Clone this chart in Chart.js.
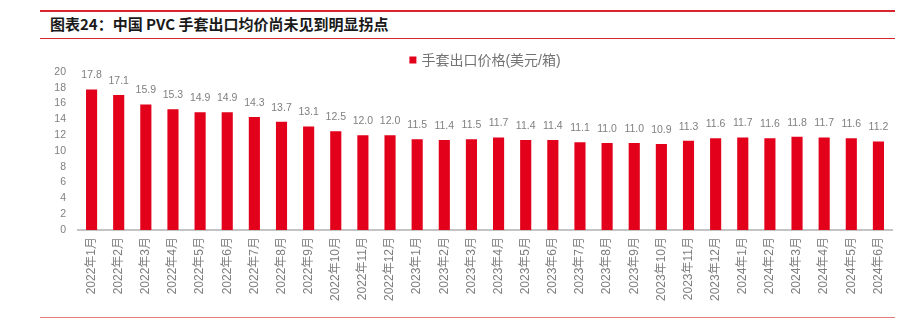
<!DOCTYPE html>
<html lang="zh-CN">
<head>
<meta charset="utf-8">
<title>中国PVC手套出口均价</title>
<script src="https://cdn.jsdelivr.net/npm/chart.js@4.4.1/dist/chart.umd.min.js"></script>
<style>
  html, body { margin: 0; padding: 0; background: #fff; }
  .page { position: relative; width: 900px; height: 325px; overflow: hidden; }
  .rule { position: absolute; left: 40px; width: 855px; background: #d9262e; }
  .rule.top { top: 10px; height: 2px; }
  .rule.mid { top: 38px; height: 1px; }
  .rule.bottom { top: 317px; height: 1px; background: #e77b7b; }
  .title {
    position: absolute; left: 50px; top: 16px;
    font: bold 15px/16px "Noto Sans CJK SC", "Liberation Sans", sans-serif;
    color: #1a1a1a; white-space: nowrap;
  }
  #chartBox { position: absolute; left: 0; top: 0; width: 900px; height: 325px; }
</style>
</head>
<body>
<div class="page">
  <div class="rule top"></div>
  <div class="title">图表24：中国 PVC 手套出口均价尚未见到明显拐点</div>
  <div class="rule mid"></div>
  <div id="chartBox"><canvas id="priceChart"></canvas></div>
  <div class="rule bottom"></div>
</div>
<script>
// 月份
const months = [
  '2022年1月', '2022年2月', '2022年3月', '2022年4月', '2022年5月', '2022年6月',
  '2022年7月', '2022年8月', '2022年9月', '2022年10月', '2022年11月', '2022年12月',
  '2023年1月', '2023年2月', '2023年3月', '2023年4月', '2023年5月', '2023年6月',
  '2023年7月', '2023年8月', '2023年9月', '2023年10月', '2023年11月', '2023年12月',
  '2024年1月', '2024年2月', '2024年3月', '2024年4月', '2024年5月', '2024年6月'
];

// 手套出口价格（美元/箱）
const prices = [
  17.8, 17.1, 15.9, 15.3, 14.9, 14.9, 14.3, 13.7, 13.1, 12.5, 12.0, 12.0,
  11.5, 11.4, 11.5, 11.7, 11.4, 11.4, 11.1, 11.0, 11.0, 10.9, 11.3, 11.6,
  11.7, 11.6, 11.8, 11.7, 11.6, 11.2
];

const seriesName = '手套出口价格(美元/箱)';
const yMin = 0, yMax = 20, yStep = 2;

const barColor = '#e2001a';
const textGray = '#7f7f7f';
const fontFamily = '"Liberation Sans", "Noto Sans CJK SC", sans-serif';

Chart.defaults.font.family = fontFamily;
Chart.defaults.color = textGray;

// 柱顶数值
const barValueLabels = {
  id: 'barValueLabels',
  afterDatasetsDraw(chart) {
    const { ctx } = chart;
    const meta = chart.getDatasetMeta(0);
    ctx.save();
    ctx.font = '10.5px ' + fontFamily;
    ctx.fillStyle = textGray;
    ctx.textAlign = 'center';
    ctx.textBaseline = 'middle';
    meta.data.forEach((bar, i) => {
      ctx.fillText(prices[i].toFixed(1), bar.x, bar.y - 14);
    });
    ctx.restore();
  }
};

// 图例：居中放在绘图区上方
const topLegend = {
  id: 'topLegend',
  afterDraw(chart) {
    const { ctx, chartArea } = chart;
    ctx.save();
    ctx.font = '14px ' + fontFamily;
    const box = 7, gap = 5;
    const textW = ctx.measureText(seriesName).width;
    const x = (chartArea.left + chartArea.right) / 2 - (box + gap + textW) / 2;
    const y = chartArea.top - 12;
    ctx.fillStyle = barColor;
    ctx.fillRect(x, y - box / 2, box, box);
    ctx.fillStyle = '#737373';
    ctx.textBaseline = 'middle';
    ctx.fillText(seriesName, x + box + gap, y + 1);
    ctx.restore();
  }
};

new Chart(document.getElementById('priceChart'), {
  type: 'bar',
  data: {
    labels: months,
    datasets: [{
      label: seriesName,
      data: prices,
      backgroundColor: barColor,
      categoryPercentage: 1,
      barPercentage: 0.41
    }]
  },
  options: {
    responsive: true,
    maintainAspectRatio: false,
    animation: false,
    layout: { padding: { top: 72, right: 8, bottom: 0, left: 0 } },
    plugins: {
      legend: { display: false },
      tooltip: { enabled: false }
    },
    scales: {
      x: {
        offset: true,
        grid: { display: false, drawTicks: false },
        border: { display: true, color: '#c4c4c4', width: 2 },
        ticks: {
          autoSkip: false,
          minRotation: 90,
          maxRotation: 90,
          padding: 7,
          font: { size: 12 },
          color: textGray
        },
        afterFit: scale => { scale.height = 95; }
      },
      y: {
        min: yMin,
        max: yMax,
        grid: { display: false, drawTicks: false },
        border: { display: false },
        ticks: {
          stepSize: yStep,
          padding: 12,
          font: { size: 10.5 },
          color: textGray
        },
        afterFit: scale => { scale.width = 78; }
      }
    }
  },
  plugins: [barValueLabels, topLegend]
});
</script>
</body>
</html>
